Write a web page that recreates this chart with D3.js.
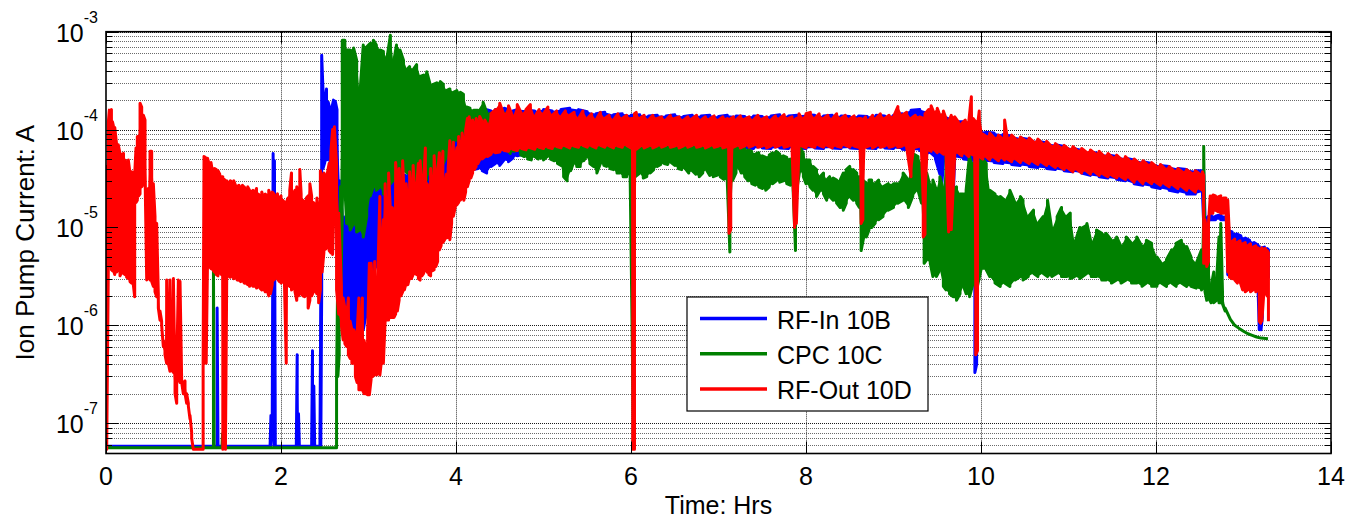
<!DOCTYPE html>
<html>
<head>
<meta charset="utf-8">
<script src="https://cdn.jsdelivr.net/npm/d3@7"></script>
<style>
  body { margin: 0; background: #fff; }
  svg { display: block; }
  text { font-family: "Liberation Sans", Arial, sans-serif; fill: #000; }
</style>
</head>
<body>
<svg id="chart" width="1350" height="522"></svg>
<script>
// ---- axis ticks and labels ----
const xTickValues = [0, 2, 4, 6, 8, 10, 12, 14];
const yDecadeValues = [1e-7, 1e-6, 1e-5, 1e-4, 1e-3];
const yDecadeExponents = ["-7", "-6", "-5", "-4", "-3"];
const xAxisTitle = "Time: Hrs";
const yAxisTitle = "Ion Pump Current: A";
const seriesNames = ["RF-In 10B", "CPC 10C", "RF-Out 10D"];
const seriesColors = ["#0000ff", "#008000", "#ff0000"];

// ---- logged pump currents: [time (h), min current (A), max current (A)] per time bin ----
const rfIn10B = [
  [0.000, 5.8e-8, 5.8e-8], [1.260, 5.8e-8, 5.8e-8], [1.270, 5.8e-8, 1.5e-6], [1.280, 5.8e-8, 5.8e-8],
  [1.875, 5.8e-8, 5.8e-8], [1.885, 5.8e-8, 1.2e-7], [1.900, 1.1e-7, 1.2e-7], [1.910, 1.2e-7, 5.7e-5],
  [1.925, 5.8e-8, 4.8e-5], [1.935, 5.8e-8, 5.8e-8], [2.175, 5.8e-8, 5.8e-8], [2.185, 5.8e-8, 5.0e-7],
  [2.200, 5.8e-8, 1.25e-7], [2.210, 5.8e-8, 5.8e-8], [2.350, 5.8e-8, 5.8e-8], [2.360, 5.8e-8, 5.5e-7],
  [2.375, 5.8e-8, 2.4e-7], [2.385, 5.8e-8, 5.8e-8], [2.445, 5.8e-8, 5.8e-8], [2.455, 5.8e-8, 2.4e-6],
  [2.465, 2.4e-6, 5.75e-4], [2.480, 4.0e-5, 2.5e-4], [2.500, 4.6e-5, 1.9e-4], [2.520, 4.9e-5, 2.6e-4],
  [2.540, 5.0e-5, 1.9e-4], [2.560, 4.5e-5, 1.6e-4], [2.580, 4.0e-5, 1.65e-4], [2.600, 3.0e-5, 2.0e-4],
  [2.620, 2.0e-5, 1.95e-4], [2.640, 9.0e-6, 1.6e-4], [2.670, 3.0e-6, 3.0e-5], [2.700, 1.5e-6, 1.3e-5],
  [2.740, 1.2e-6, 1.3e-5], [2.780, 1.0e-6, 1.2e-5], [2.820, 9.0e-7, 1.4e-5], [2.860, 9.0e-7, 1.2e-5],
  [2.900, 9.0e-7, 1.3e-5], [2.940, 9.0e-7, 1.4e-5], [2.980, 1.4e-6, 2.4e-5], [3.020, 2.3e-6, 2.6e-5],
  [3.060, 3.0e-6, 2.4e-5], [3.100, 4.0e-6, 2.8e-5], [3.140, 4.3e-6, 3.0e-5], [3.180, 4.3e-6, 3.2e-5],
  [3.220, 4.5e-6, 3.3e-5], [3.260, 4.5e-6, 3.5e-5], [3.300, 4.3e-6, 3.2e-5], [3.340, 5.0e-6, 3.4e-5],
  [3.380, 6.0e-6, 3.5e-5], [3.420, 6.0e-6, 3.4e-5], [3.460, 6.5e-6, 3.6e-5], [3.500, 6.5e-6, 3.8e-5],
  [3.550, 6.0e-6, 4.0e-5], [3.600, 6.0e-6, 3.8e-5], [3.650, 7.0e-6, 4.0e-5], [3.700, 7.0e-6, 4.2e-5],
  [3.750, 9.0e-6, 4.5e-5], [3.800, 1.4e-5, 5.0e-5], [3.850, 1.6e-5, 5.5e-5], [3.900, 1.8e-5, 6.0e-5],
  [3.950, 2.2e-5, 6.5e-5], [4.000, 2.6e-5, 7.5e-5], [4.050, 2.8e-5, 8.5e-5], [4.100, 3.2e-5, 1.1e-4],
  [4.150, 3.6e-5, 1.3e-4], [4.200, 3.9e-5, 1.3e-4], [4.250, 4.0e-5, 1.45e-4], [4.300, 3.8e-5, 1.55e-4],
  [4.350, 3.6e-5, 1.6e-4], [4.400, 4.2e-5, 1.55e-4], [4.450, 4.5e-5, 1.6e-4], [4.500, 4.3e-5, 1.6e-4],
  [4.550, 4.9e-5, 1.65e-4], [4.600, 4.7e-5, 1.6e-4], [4.650, 5.1e-5, 1.55e-4], [4.700, 5.4e-5, 1.6e-4],
  [4.800, 5.7e-5, 1.58e-4], [4.900, 5.9e-5, 1.55e-4], [5.000, 6.0e-5, 1.6e-4], [5.100, 6.1e-5, 1.55e-4],
  [5.200, 6.2e-5, 1.6e-4], [5.300, 6.3e-5, 1.65e-4], [5.400, 6.4e-5, 1.6e-4], [5.500, 6.3e-5, 1.52e-4],
  [5.600, 6.4e-5, 1.45e-4], [5.700, 6.5e-5, 1.5e-4], [5.800, 6.4e-5, 1.42e-4], [5.900, 6.5e-5, 1.45e-4],
  [6.000, 6.4e-5, 1.4e-4], [6.100, 6.5e-5, 1.42e-4], [6.200, 6.4e-5, 1.38e-4], [6.300, 6.5e-5, 1.4e-4],
  [6.400, 6.4e-5, 1.38e-4], [6.500, 6.5e-5, 1.42e-4], [6.600, 6.4e-5, 1.36e-4], [6.700, 6.5e-5, 1.4e-4],
  [6.800, 6.4e-5, 1.38e-4], [6.900, 6.5e-5, 1.4e-4], [7.000, 6.4e-5, 1.36e-4], [7.100, 6.5e-5, 1.4e-4],
  [7.200, 6.4e-5, 1.38e-4], [7.300, 6.5e-5, 1.36e-4], [7.400, 6.4e-5, 1.38e-4], [7.500, 6.5e-5, 1.36e-4],
  [7.600, 6.4e-5, 1.38e-4], [7.700, 6.5e-5, 1.42e-4], [7.800, 6.4e-5, 1.38e-4], [7.900, 6.5e-5, 1.4e-4],
  [8.000, 6.4e-5, 1.42e-4], [8.100, 6.5e-5, 1.4e-4], [8.200, 6.4e-5, 1.38e-4], [8.300, 6.5e-5, 1.4e-4],
  [8.400, 6.4e-5, 1.38e-4], [8.500, 6.5e-5, 1.36e-4], [8.600, 6.4e-5, 1.38e-4], [8.700, 6.5e-5, 1.36e-4],
  [8.800, 6.4e-5, 1.4e-4], [8.900, 6.5e-5, 1.38e-4], [9.000, 6.4e-5, 1.4e-4], [9.100, 6.3e-5, 1.45e-4],
  [9.200, 6.2e-5, 1.58e-4], [9.300, 6.1e-5, 1.6e-4], [9.400, 5.8e-5, 1.5e-4], [9.480, 5.0e-5, 1.45e-4],
  [9.530, 3.5e-5, 1.4e-4], [9.550, 2.6e-5, 1.4e-4], [9.570, 4.5e-5, 1.35e-4], [9.620, 5.0e-5, 1.3e-4],
  [9.640, 6.4e-6, 1.25e-4], [9.660, 7.0e-6, 1.25e-4], [9.700, 5.2e-5, 1.2e-4], [9.800, 5.0e-5, 1.2e-4],
  [9.900, 4.9e-5, 1.15e-4], [9.930, 3.3e-7, 1.1e-4], [9.950, 4.0e-7, 1.05e-4], [9.980, 4.8e-5, 1.0e-4],
  [10.05, 4.7e-5, 9.4e-5], [10.15, 4.6e-5, 9.2e-5], [10.25, 4.5e-5, 8.9e-5], [10.35, 4.4e-5, 8.6e-5],
  [10.45, 4.3e-5, 8.2e-5], [10.55, 4.2e-5, 7.9e-5], [10.65, 4.1e-5, 7.6e-5], [10.75, 4.0e-5, 7.3e-5],
  [10.85, 3.9e-5, 7.0e-5], [10.95, 3.8e-5, 6.7e-5], [11.05, 3.7e-5, 6.4e-5], [11.15, 3.6e-5, 6.1e-5],
  [11.25, 3.4e-5, 5.9e-5], [11.35, 3.3e-5, 5.7e-5], [11.45, 3.2e-5, 5.5e-5], [11.55, 3.1e-5, 5.3e-5],
  [11.65, 3.0e-5, 5.1e-5], [11.75, 2.8e-5, 4.9e-5], [11.85, 2.7e-5, 4.7e-5], [11.95, 2.6e-5, 4.5e-5],
  [12.05, 2.5e-5, 4.3e-5], [12.15, 2.4e-5, 4.2e-5], [12.25, 2.3e-5, 4.0e-5], [12.35, 2.2e-5, 3.9e-5],
  [12.45, 2.2e-5, 3.8e-5], [12.53, 2.3e-5, 3.8e-5], [12.545, 1.1e-5, 3.7e-5], [12.56, 1.05e-5, 1.3e-5],
  [12.60, 1.1e-5, 1.3e-5], [12.63, 1.2e-5, 1.35e-5], [12.68, 1.2e-5, 1.3e-5], [12.74, 1.2e-5, 1.35e-5],
  [12.80, 1.2e-5, 1.3e-5], [12.82, 3.3e-6, 1.2e-5], [12.84, 3.2e-6, 9.2e-6], [12.87, 3.1e-6, 9.0e-6],
  [12.92, 3.0e-6, 8.6e-6], [12.97, 2.9e-6, 8.2e-6], [13.02, 2.8e-6, 7.8e-6], [13.07, 2.8e-6, 7.4e-6],
  [13.12, 2.7e-6, 7.0e-6], [13.165, 2.6e-6, 6.6e-6], [13.18, 9.0e-7, 6.4e-6], [13.20, 9.0e-7, 1.5e-6],
  [13.215, 1.2e-6, 6.2e-6], [13.24, 2.5e-6, 6.3e-6], [13.27, 2.5e-6, 6.1e-6], [13.285, 3.0e-6, 5.9e-6]
];

const cpc10C = [
  [0.000, 5.6e-8, 5.6e-8], [1.220, 5.6e-8, 5.6e-8], [1.228, 5.6e-8, 4.3e-6], [1.236, 5.6e-8, 5.6e-8],
  [1.325, 5.6e-8, 5.6e-8], [1.332, 5.6e-8, 7.8e-8], [1.340, 5.6e-8, 5.6e-8], [2.625, 5.6e-8, 5.6e-8],
  [2.635, 5.6e-8, 3.0e-7], [2.650, 3.0e-7, 4.3e-6], [2.665, 5.0e-7, 2.6e-6], [2.680, 1.6e-6, 2.6e-5],
  [2.700, 1.3e-5, 8.2e-4], [2.730, 2.6e-5, 8.2e-4], [2.750, 1.1e-5, 6.5e-4], [2.790, 9.4e-6, 6.5e-4],
  [2.830, 1.1e-5, 6.8e-4], [2.865, 9.0e-6, 5.1e-4], [2.900, 9.4e-6, 2.2e-4], [2.940, 8.0e-6, 7.3e-4],
  [2.980, 1.3e-5, 7.0e-4], [3.020, 2.1e-5, 7.6e-4], [3.055, 2.6e-5, 8.2e-4], [3.090, 2.4e-5, 7.3e-4],
  [3.130, 2.6e-5, 6.5e-4], [3.170, 2.2e-5, 6.3e-4], [3.210, 2.6e-5, 5.3e-4], [3.250, 2.8e-5, 9.2e-4],
  [3.285, 3.05e-5, 4.75e-4], [3.320, 2.8e-5, 7.3e-4], [3.360, 3.3e-5, 6.5e-4], [3.400, 3.9e-5, 5.1e-4],
  [3.440, 3.6e-5, 4.1e-4], [3.470, 3.3e-5, 4.4e-4], [3.510, 3.6e-5, 4.1e-4], [3.550, 2.8e-5, 4.6e-4],
  [3.590, 3.9e-5, 3.5e-4], [3.630, 3.3e-5, 3.6e-4], [3.665, 3.05e-5, 3.9e-4], [3.700, 3.6e-5, 3.0e-4],
  [3.740, 3.3e-5, 2.9e-4], [3.780, 3.9e-5, 3.0e-4], [3.820, 4.2e-5, 3.1e-4], [3.855, 4.5e-5, 2.9e-4],
  [3.890, 5.3e-5, 2.5e-4], [3.930, 6.2e-5, 2.6e-4], [3.970, 7.2e-5, 2.4e-4], [4.010, 7.8e-5, 2.5e-4],
  [4.050, 8.5e-5, 2.4e-4], [4.085, 9.2e-5, 2.3e-4], [4.120, 9.9e-5, 1.7e-4], [4.160, 9.2e-5, 1.65e-4],
  [4.200, 9.2e-5, 1.58e-4], [4.250, 8.5e-5, 1.58e-4], [4.310, 8.5e-5, 1.9e-4], [4.350, 8.0e-5, 1.5e-4],
  [4.390, 7.8e-5, 1.47e-4], [4.430, 7.5e-5, 1.4e-4], [4.470, 7.2e-5, 1.35e-4], [4.510, 6.8e-5, 1.45e-4],
  [4.550, 6.5e-5, 1.47e-4], [4.590, 6.2e-5, 1.4e-4], [4.620, 5.7e-5, 1.36e-4], [4.660, 6.0e-5, 1.3e-4],
  [4.700, 6.2e-5, 1.25e-4], [4.740, 5.5e-5, 1.25e-4], [4.780, 5.3e-5, 1.25e-4], [4.820, 5.0e-5, 1.2e-4],
  [4.860, 4.9e-5, 1.25e-4], [4.900, 5.3e-5, 1.2e-4], [4.940, 5.0e-5, 1.2e-4], [5.000, 4.9e-5, 1.16e-4],
  [5.040, 5.3e-5, 1.2e-4], [5.080, 5.0e-5, 1.1e-4], [5.120, 4.8e-5, 1.16e-4], [5.160, 4.5e-5, 1.1e-4],
  [5.200, 4.3e-5, 1.07e-4], [5.230, 3.3e-5, 1.1e-4], [5.270, 3.0e-5, 1.05e-4], [5.310, 3.8e-5, 1.0e-4],
  [5.340, 4.5e-5, 9.5e-5], [5.380, 4.2e-5, 9.9e-5], [5.420, 4.2e-5, 9.2e-5], [5.460, 4.8e-5, 9.6e-5],
  [5.490, 5.3e-5, 9.9e-5], [5.530, 4.5e-5, 9.2e-5], [5.570, 4.2e-5, 9.5e-5], [5.610, 3.6e-5, 9.0e-5],
  [5.650, 4.5e-5, 9.4e-5], [5.690, 4.3e-5, 8.8e-5], [5.720, 4.2e-5, 9.2e-5], [5.760, 4.0e-5, 8.6e-5],
  [5.800, 3.9e-5, 9.0e-5], [5.840, 3.6e-5, 8.5e-5], [5.870, 3.6e-5, 8.8e-5], [5.910, 3.3e-5, 8.4e-5],
  [5.950, 3.3e-5, 8.6e-5], [5.990, 3.5e-5, 8.2e-5], [6.030, 5.6e-8, 8.5e-5], [6.050, 3.3e-5, 8.0e-5],
  [6.100, 3.6e-5, 8.6e-5], [6.140, 3.2e-5, 8.2e-5], [6.180, 3.3e-5, 8.6e-5], [6.220, 3.6e-5, 8.4e-5],
  [6.260, 3.9e-5, 8.8e-5], [6.300, 4.2e-5, 8.5e-5], [6.340, 4.4e-5, 8.9e-5], [6.380, 4.5e-5, 8.6e-5],
  [6.420, 4.4e-5, 8.8e-5], [6.460, 4.6e-5, 8.4e-5], [6.500, 4.3e-5, 8.2e-5], [6.540, 4.0e-5, 8.5e-5],
  [6.580, 3.9e-5, 8.0e-5], [6.620, 4.0e-5, 7.8e-5], [6.660, 3.6e-5, 8.1e-5], [6.700, 3.8e-5, 7.6e-5],
  [6.740, 3.5e-5, 7.8e-5], [6.780, 3.3e-5, 7.4e-5], [6.820, 3.6e-5, 7.6e-5], [6.860, 3.9e-5, 7.2e-5],
  [6.900, 3.4e-5, 7.4e-5], [6.940, 3.3e-5, 7.0e-5], [6.980, 3.4e-5, 7.2e-5], [7.020, 3.3e-5, 6.8e-5],
  [7.060, 3.1e-5, 7.0e-5], [7.100, 3.0e-5, 6.6e-5], [7.130, 5.6e-6, 6.5e-5], [7.160, 3.0e-5, 6.8e-5],
  [7.200, 3.6e-5, 7.0e-5], [7.230, 4.2e-5, 7.2e-5], [7.260, 3.6e-5, 6.8e-5], [7.300, 3.3e-5, 6.4e-5],
  [7.340, 3.0e-5, 6.2e-5], [7.380, 2.8e-5, 6.0e-5], [7.420, 2.7e-5, 5.6e-5], [7.460, 2.6e-5, 5.8e-5],
  [7.500, 2.5e-5, 5.4e-5], [7.540, 2.4e-5, 5.2e-5], [7.580, 2.6e-5, 5.5e-5], [7.620, 2.8e-5, 5.8e-5],
  [7.660, 3.0e-5, 6.0e-5], [7.700, 2.9e-5, 5.6e-5], [7.740, 3.0e-5, 5.4e-5], [7.780, 2.8e-5, 5.2e-5],
  [7.820, 2.7e-5, 5.0e-5], [7.850, 2.8e-5, 4.6e-5], [7.880, 5.8e-6, 4.5e-5], [7.900, 2.6e-5, 4.8e-5],
  [7.930, 3.9e-5, 6.7e-5], [7.970, 3.3e-5, 5.7e-5], [8.000, 2.8e-5, 4.9e-5], [8.045, 2.6e-5, 4.9e-5],
  [8.080, 2.4e-5, 4.2e-5], [8.120, 2.07e-5, 3.9e-5], [8.160, 2.4e-5, 3.3e-5], [8.200, 2.2e-5, 3.6e-5],
  [8.236, 1.9e-5, 3.05e-5], [8.270, 2.07e-5, 3.3e-5], [8.310, 1.9e-5, 3.2e-5], [8.350, 1.77e-5, 3.05e-5],
  [8.390, 1.6e-5, 3.05e-5], [8.426, 1.5e-5, 3.6e-5], [8.460, 1.77e-5, 3.9e-5], [8.500, 2.07e-5, 4.2e-5],
  [8.540, 1.9e-5, 3.9e-5], [8.580, 1.77e-5, 3.6e-5], [8.610, 1.6e-5, 3.3e-5], [8.630, 5.8e-6, 3.3e-5],
  [8.660, 8.0e-6, 3.0e-5], [8.690, 8.0e-6, 2.8e-5], [8.720, 9.4e-6, 3.05e-5], [8.750, 1.0e-5, 3.05e-5],
  [8.790, 1.1e-5, 2.8e-5], [8.830, 1.2e-5, 3.05e-5], [8.880, 1.29e-5, 2.6e-5], [8.940, 1.5e-5, 2.8e-5],
  [9.000, 1.6e-5, 2.8e-5], [9.050, 1.77e-5, 2.8e-5], [9.110, 1.9e-5, 3.6e-5], [9.170, 1.6e-5, 3.05e-5],
  [9.220, 2.07e-5, 5.7e-5], [9.280, 2.4e-5, 5.3e-5], [9.320, 1.77e-5, 4.5e-5], [9.350, 4.3e-6, 4.0e-5],
  [9.380, 4.7e-6, 3.6e-5], [9.420, 4.3e-6, 2.6e-5], [9.450, 3.15e-6, 3.05e-5], [9.490, 3.15e-6, 2.4e-5],
  [9.530, 3.7e-6, 3.3e-5], [9.570, 2.5e-6, 2.4e-5], [9.600, 2.3e-6, 5.7e-5], [9.640, 2.1e-6, 2.6e-5],
  [9.680, 1.96e-6, 2.4e-5], [9.720, 1.8e-6, 2.6e-5], [9.760, 2.1e-6, 2.2e-5], [9.800, 2.5e-6, 2.2e-5],
  [9.830, 2.1e-6, 2.4e-5], [9.870, 1.96e-6, 5.7e-5], [9.910, 2.7e-6, 4.5e-5], [9.950, 2.3e-6, 3.9e-5],
  [10.00, 3.7e-6, 5.3e-5], [10.06, 3.7e-6, 4.5e-5], [10.10, 3.15e-6, 2.4e-5], [10.16, 2.7e-6, 2.2e-5],
  [10.22, 2.5e-6, 2.07e-5], [10.27, 2.7e-6, 1.9e-5], [10.33, 2.5e-6, 2.4e-5], [10.39, 2.9e-6, 1.77e-5],
  [10.45, 3.15e-6, 2.07e-5], [10.48, 2.9e-6, 1.9e-5], [10.54, 3.15e-6, 1.29e-5], [10.60, 3.4e-6, 1.5e-5],
  [10.65, 3.15e-6, 1.1e-5], [10.71, 3.4e-6, 1.29e-5], [10.76, 3.15e-6, 1.9e-5], [10.81, 3.15e-6, 9.4e-6],
  [10.87, 3.4e-6, 1.29e-5], [10.92, 3.15e-6, 1.6e-5], [10.98, 3.15e-6, 1.29e-5], [11.02, 3.0e-6, 1.4e-5],
  [11.07, 3.15e-6, 6.9e-6], [11.13, 3.0e-6, 1.0e-5], [11.21, 3.4e-6, 1.1e-5], [11.26, 3.15e-6, 6.9e-6],
  [11.32, 3.15e-6, 9.4e-6], [11.38, 2.9e-6, 8.7e-6], [11.43, 2.9e-6, 8.7e-6], [11.49, 2.7e-6, 7.4e-6],
  [11.55, 2.9e-6, 8.0e-6], [11.60, 2.7e-6, 6.4e-6], [11.66, 2.9e-6, 8.0e-6], [11.72, 2.7e-6, 6.9e-6],
  [11.78, 2.7e-6, 8.0e-6], [11.84, 2.5e-6, 6.4e-6], [11.89, 2.7e-6, 7.4e-6], [11.95, 2.5e-6, 6.9e-6],
  [12.01, 2.5e-6, 5.0e-6], [12.06, 2.7e-6, 4.3e-6], [12.12, 2.5e-6, 4.7e-6], [12.18, 2.7e-6, 5.9e-6],
  [12.23, 2.5e-6, 6.9e-6], [12.29, 2.7e-6, 7.4e-6], [12.35, 2.5e-6, 6.4e-6], [12.40, 2.5e-6, 5.0e-6],
  [12.46, 2.4e-6, 4.3e-6], [12.52, 2.3e-6, 5.9e-6], [12.545, 2.5e-6, 6.7e-5], [12.56, 2.2e-6, 4.3e-6],
  [12.58, 1.8e-6, 4.5e-6], [12.60, 1.9e-6, 4.7e-6], [12.63, 1.7e-6, 2.5e-6], [12.66, 1.7e-6, 3.5e-6],
  [12.69, 1.8e-6, 2.6e-6], [12.72, 1.7e-6, 8.0e-6], [12.74, 1.7e-6, 1.1e-5], [12.76, 1.65e-6, 2.2e-6],
  [12.79, 1.4e-6, 1.5e-6], [12.85, 1.15e-6, 1.15e-6], [12.90, 1.0e-6, 1.0e-6], [12.95, 9.3e-7, 9.3e-7],
  [13.00, 8.7e-7, 8.7e-7], [13.05, 8.2e-7, 8.2e-7], [13.10, 7.9e-7, 7.9e-7], [13.15, 7.6e-7, 7.6e-7],
  [13.20, 7.4e-7, 7.4e-7], [13.28, 7.3e-7, 7.3e-7]
];

const rfOut10D = [
  [0.000, 5.4e-8, 5.4e-8], [0.008, 5.4e-8, 4.2e-5], [0.027, 4.3e-6, 1.2e-4], [0.038, 4.0e-6, 1.58e-4],
  [0.050, 4.0e-6, 1.5e-4], [0.062, 3.7e-6, 1.6e-4], [0.074, 3.6e-6, 1.2e-4], [0.084, 3.7e-6, 1.1e-4],
  [0.100, 3.3e-6, 1.05e-4], [0.120, 3.5e-6, 7.2e-5], [0.140, 3.7e-6, 7.0e-5], [0.160, 3.2e-6, 5.7e-5],
  [0.180, 3.5e-6, 5.5e-5], [0.200, 3.4e-6, 5.7e-5], [0.217, 3.3e-6, 4.9e-5], [0.236, 3.1e-6, 4.4e-5],
  [0.255, 3.0e-6, 4.9e-5], [0.274, 2.8e-6, 3.6e-5], [0.293, 2.7e-6, 3.7e-5], [0.312, 2.6e-6, 3.6e-5],
  [0.328, 1.96e-6, 3.5e-5], [0.343, 1.8e-5, 6.5e-5], [0.358, 1.9e-5, 8.5e-5], [0.373, 2.1e-5, 8.5e-5],
  [0.389, 2.2e-5, 1.86e-4], [0.408, 2.6e-5, 1.7e-4], [0.427, 2.8e-5, 1.4e-4], [0.446, 3.6e-5, 1.25e-4],
  [0.465, 2.9e-6, 2.2e-5], [0.484, 3.2e-6, 2.5e-5], [0.503, 2.9e-6, 6.0e-5], [0.522, 2.8e-6, 6.0e-5],
  [0.541, 2.5e-6, 2.8e-5], [0.560, 2.2e-6, 1.3e-5], [0.579, 1.96e-6, 1.1e-5], [0.598, 1.5e-6, 2.1e-6],
  [0.617, 1.13e-6, 1.4e-6], [0.636, 1.0e-6, 1.1e-6], [0.655, 6.1e-7, 7.0e-7], [0.674, 5.0e-7, 5.5e-7],
  [0.693, 4.1e-7, 2.9e-6], [0.712, 4.1e-7, 6.0e-7], [0.731, 3.4e-7, 2.9e-6], [0.750, 3.5e-7, 4.0e-7],
  [0.770, 3.3e-7, 3.0e-6], [0.789, 2.0e-7, 2.9e-7], [0.808, 1.6e-7, 3.5e-7], [0.827, 3.0e-7, 2.9e-6],
  [0.846, 2.6e-7, 2.8e-6], [0.865, 2.6e-7, 2.7e-7], [0.884, 2.0e-7, 2.6e-7], [0.903, 2.0e-7, 2.7e-7],
  [0.922, 1.6e-7, 2.0e-7], [0.941, 1.5e-7, 1.6e-7], [0.960, 1.1e-7, 1.2e-7], [0.979, 7.0e-8, 8.0e-8],
  [0.998, 5.4e-8, 5.4e-8], [1.105, 5.4e-8, 5.4e-8], [1.110, 5.4e-8, 4.1e-7], [1.120, 4.1e-7, 5.3e-5],
  [1.135, 4.5e-6, 5.2e-5], [1.145, 4.1e-7, 4.5e-5], [1.160, 4.3e-6, 5.1e-5], [1.180, 4.0e-6, 4.4e-5],
  [1.200, 3.8e-6, 4.6e-5], [1.220, 3.7e-6, 3.6e-5], [1.240, 3.5e-6, 4.0e-5], [1.260, 3.3e-6, 3.9e-5],
  [1.280, 3.2e-6, 3.8e-5], [1.300, 3.5e-6, 3.5e-5], [1.320, 3.3e-6, 3.3e-5], [1.335, 5.4e-8, 3.3e-5],
  [1.350, 3.1e-6, 3.1e-5], [1.365, 5.4e-8, 3.0e-5], [1.380, 3.3e-6, 3.0e-5], [1.400, 3.2e-6, 2.8e-5],
  [1.420, 3.1e-6, 3.0e-5], [1.440, 3.3e-6, 2.9e-5], [1.460, 3.0e-6, 3.0e-5], [1.480, 3.1e-6, 2.7e-5],
  [1.500, 2.9e-6, 2.6e-5], [1.520, 2.9e-6, 2.7e-5], [1.540, 2.8e-6, 2.5e-5], [1.560, 2.9e-6, 2.7e-5],
  [1.580, 2.7e-6, 2.6e-5], [1.600, 2.7e-6, 2.4e-5], [1.620, 2.6e-6, 2.6e-5], [1.640, 2.5e-6, 2.4e-5],
  [1.660, 2.6e-6, 2.3e-5], [1.680, 2.5e-6, 2.4e-5], [1.700, 2.5e-6, 2.2e-5], [1.720, 2.4e-6, 2.5e-5],
  [1.740, 2.5e-6, 2.2e-5], [1.760, 2.4e-6, 2.1e-5], [1.780, 2.3e-6, 2.3e-5], [1.800, 2.4e-6, 2.0e-5],
  [1.820, 2.2e-6, 2.2e-5], [1.840, 2.3e-6, 2.1e-5], [1.860, 2.0e-6, 2.4e-5], [1.880, 2.1e-6, 2.1e-5],
  [1.900, 2.6e-6, 2.3e-5], [1.920, 2.9e-6, 2.2e-5], [1.940, 3.1e-6, 2.0e-5], [1.960, 3.0e-6, 2.2e-5],
  [1.980, 2.8e-6, 2.0e-5], [2.000, 2.7e-6, 2.1e-5], [2.020, 2.8e-6, 1.9e-5], [2.040, 2.6e-6, 1.8e-5],
  [2.060, 4.1e-7, 1.8e-5], [2.080, 2.6e-6, 2.0e-5], [2.100, 2.5e-6, 2.4e-5], [2.120, 2.3e-6, 3.6e-5],
  [2.140, 2.4e-6, 2.2e-5], [2.160, 2.2e-6, 2.4e-5], [2.180, 1.8e-6, 2.6e-5], [2.200, 2.0e-6, 2.2e-5],
  [2.215, 2.3e-6, 3.9e-5], [2.230, 2.1e-6, 2.2e-5], [2.250, 2.0e-6, 1.9e-5], [2.270, 1.96e-6, 1.8e-5],
  [2.290, 2.1e-6, 2.0e-5], [2.310, 1.5e-6, 2.1e-5], [2.330, 1.8e-6, 2.8e-5], [2.350, 2.0e-6, 2.1e-5],
  [2.370, 2.2e-6, 1.8e-5], [2.390, 2.3e-6, 1.7e-5], [2.410, 2.1e-6, 2.0e-5], [2.430, 1.7e-6, 1.4e-5],
  [2.450, 2.3e-6, 3.8e-5], [2.470, 3.5e-6, 2.8e-5], [2.490, 5.5e-6, 3.6e-5], [2.510, 6.0e-6, 3.3e-5],
  [2.530, 6.3e-6, 3.6e-5], [2.550, 5.8e-6, 4.5e-5], [2.570, 5.5e-6, 6.0e-5], [2.590, 5.3e-6, 1.0e-4],
  [2.610, 2.1e-5, 1.07e-4], [2.635, 2.3e-6, 4.5e-5], [2.660, 1.3e-6, 1.4e-5], [2.690, 1.0e-6, 2.5e-6],
  [2.710, 7.1e-7, 1.9e-6], [2.730, 6.5e-7, 1.5e-6], [2.750, 6.1e-7, 1.2e-6], [2.770, 5.0e-7, 1.9e-6],
  [2.790, 4.6e-7, 1.1e-6], [2.810, 4.1e-7, 9.0e-7], [2.830, 4.1e-7, 9.0e-7], [2.850, 3.0e-7, 8.0e-7],
  [2.870, 2.6e-7, 8.5e-7], [2.890, 2.2e-7, 1.9e-6], [2.910, 2.2e-7, 8.0e-7], [2.930, 2.2e-7, 1.9e-6],
  [2.950, 2.0e-7, 7.0e-7], [2.970, 2.0e-7, 5.5e-7], [2.990, 1.95e-7, 9.0e-7], [3.010, 1.95e-7, 4.3e-6],
  [3.030, 2.8e-7, 4.3e-6], [3.050, 3.0e-7, 2.3e-6], [3.070, 3.2e-7, 4.5e-6], [3.090, 3.1e-7, 1.3e-6],
  [3.110, 3.3e-7, 4.3e-6], [3.130, 3.1e-7, 2.07e-5], [3.150, 4.5e-7, 6.0e-6], [3.170, 4.1e-7, 1.2e-5],
  [3.190, 1.1e-6, 2.8e-5], [3.210, 1.13e-6, 9.0e-6], [3.230, 1.13e-6, 3.6e-5], [3.250, 1.2e-6, 1.5e-5],
  [3.270, 1.2e-6, 1.6e-5], [3.290, 1.2e-6, 1.5e-5], [3.310, 1.3e-6, 4.6e-5], [3.330, 1.4e-6, 2.4e-5],
  [3.350, 1.8e-6, 4.0e-5], [3.370, 2.0e-6, 1.8e-5], [3.390, 2.2e-6, 4.8e-5], [3.410, 2.3e-6, 2.0e-5],
  [3.430, 2.7e-6, 2.8e-5], [3.450, 2.6e-6, 1.7e-5], [3.470, 3.1e-6, 3.7e-5], [3.490, 3.0e-6, 2.2e-5],
  [3.510, 3.3e-6, 4.3e-5], [3.530, 3.4e-6, 2.0e-5], [3.550, 3.3e-6, 2.5e-5], [3.570, 3.0e-6, 4.5e-5],
  [3.590, 2.9e-6, 4.8e-5], [3.610, 3.2e-6, 2.4e-5], [3.630, 3.4e-6, 3.0e-5], [3.650, 3.7e-6, 6.5e-5],
  [3.670, 3.5e-6, 2.8e-5], [3.690, 3.3e-6, 2.5e-5], [3.710, 3.2e-6, 4.0e-5], [3.730, 3.6e-6, 2.2e-5],
  [3.750, 3.7e-6, 5.4e-5], [3.770, 4.0e-6, 3.0e-5], [3.790, 4.5e-6, 3.5e-5], [3.810, 5.9e-6, 5.8e-5],
  [3.830, 6.5e-6, 3.0e-5], [3.850, 7.0e-6, 6.0e-5], [3.870, 7.5e-6, 2.5e-5], [3.890, 7.8e-6, 3.5e-5],
  [3.910, 8.0e-6, 4.0e-5], [3.930, 7.5e-6, 7.7e-5], [3.950, 1.1e-5, 4.5e-5], [3.970, 1.3e-5, 7.4e-5],
  [3.990, 1.6e-5, 5.0e-5], [4.010, 1.7e-5, 6.5e-5], [4.030, 1.8e-5, 8.5e-5], [4.050, 1.9e-5, 6.0e-5],
  [4.070, 2.0e-5, 9.2e-5], [4.090, 1.9e-5, 7.0e-5], [4.110, 2.3e-5, 9.9e-5], [4.130, 2.6e-5, 1.3e-4],
  [4.150, 3.0e-5, 1.35e-4], [4.170, 3.2e-5, 1.0e-4], [4.190, 3.6e-5, 1.25e-4], [4.210, 3.9e-5, 1.1e-4],
  [4.230, 4.2e-5, 1.3e-4], [4.250, 4.5e-5, 1.1e-4], [4.270, 4.9e-5, 1.36e-4], [4.300, 5.0e-5, 1.2e-4],
  [4.330, 5.3e-5, 1.25e-4], [4.360, 5.3e-5, 1.1e-4], [4.400, 5.6e-5, 1.45e-4], [4.450, 5.8e-5, 1.6e-4],
  [4.500, 5.9e-5, 1.86e-4], [4.550, 6.1e-5, 1.4e-4], [4.600, 6.0e-5, 1.75e-4], [4.650, 6.3e-5, 1.35e-4],
  [4.700, 6.1e-5, 1.8e-4], [4.750, 6.4e-5, 1.45e-4], [4.800, 6.2e-5, 1.6e-4], [4.850, 6.5e-5, 1.8e-4],
  [4.900, 6.3e-5, 1.35e-4], [4.950, 6.6e-5, 1.6e-4], [5.000, 6.4e-5, 1.45e-4], [5.050, 6.6e-5, 1.7e-4],
  [5.100, 6.4e-5, 1.4e-4], [5.150, 6.7e-5, 1.55e-4], [5.200, 6.5e-5, 1.35e-4], [5.250, 6.8e-5, 1.55e-4],
  [5.300, 6.5e-5, 1.4e-4], [5.350, 6.8e-5, 1.5e-4], [5.400, 6.6e-5, 1.3e-4], [5.450, 6.9e-5, 1.55e-4],
  [5.500, 6.6e-5, 1.3e-4], [5.550, 6.8e-5, 1.45e-4], [5.600, 6.5e-5, 1.25e-4], [5.650, 6.9e-5, 1.5e-4],
  [5.700, 6.6e-5, 1.3e-4], [5.750, 6.8e-5, 1.4e-4], [5.800, 6.5e-5, 1.25e-4], [5.850, 6.8e-5, 1.45e-4],
  [5.900, 6.6e-5, 1.3e-4], [5.950, 6.9e-5, 1.4e-4], [6.000, 6.5e-5, 1.3e-4], [6.020, 5.4e-8, 1.3e-4],
  [6.040, 5.4e-8, 1.45e-4], [6.060, 6.3e-5, 1.5e-4], [6.100, 6.7e-5, 1.3e-4], [6.150, 6.5e-5, 1.4e-4],
  [6.200, 6.8e-5, 1.25e-4], [6.250, 6.5e-5, 1.4e-4], [6.300, 6.8e-5, 1.3e-4], [6.350, 6.6e-5, 1.35e-4],
  [6.400, 6.9e-5, 1.25e-4], [6.450, 6.6e-5, 1.4e-4], [6.500, 6.8e-5, 1.3e-4], [6.550, 6.5e-5, 1.35e-4],
  [6.600, 6.8e-5, 1.25e-4], [6.650, 6.6e-5, 1.35e-4], [6.700, 6.9e-5, 1.3e-4], [6.750, 6.6e-5, 1.4e-4],
  [6.800, 6.8e-5, 1.25e-4], [6.850, 6.5e-5, 1.35e-4], [6.900, 6.8e-5, 1.28e-4], [6.950, 6.6e-5, 1.38e-4],
  [7.000, 6.8e-5, 1.25e-4], [7.050, 6.5e-5, 1.35e-4], [7.100, 6.7e-5, 1.3e-4], [7.120, 8.7e-6, 1.25e-4],
  [7.140, 9.5e-6, 1.3e-4], [7.170, 6.6e-5, 1.35e-4], [7.200, 6.8e-5, 1.25e-4], [7.250, 6.5e-5, 1.38e-4],
  [7.300, 6.8e-5, 1.28e-4], [7.350, 6.6e-5, 1.35e-4], [7.400, 6.9e-5, 1.25e-4], [7.450, 6.6e-5, 1.4e-4],
  [7.500, 6.8e-5, 1.28e-4], [7.550, 6.5e-5, 1.35e-4], [7.600, 6.8e-5, 1.25e-4], [7.650, 6.6e-5, 1.38e-4],
  [7.700, 6.9e-5, 1.3e-4], [7.750, 6.6e-5, 1.42e-4], [7.800, 6.8e-5, 1.3e-4], [7.840, 6.6e-5, 1.35e-4],
  [7.870, 1.0e-5, 1.25e-4], [7.890, 1.1e-5, 1.3e-4], [7.920, 6.6e-5, 1.45e-4], [7.950, 6.8e-5, 1.3e-4],
  [8.000, 6.5e-5, 1.45e-4], [8.050, 6.8e-5, 1.5e-4], [8.100, 6.6e-5, 1.3e-4], [8.150, 6.9e-5, 1.45e-4],
  [8.200, 6.6e-5, 1.3e-4], [8.250, 6.8e-5, 1.4e-4], [8.300, 6.5e-5, 1.28e-4], [8.350, 6.8e-5, 1.45e-4],
  [8.400, 6.6e-5, 1.3e-4], [8.450, 6.9e-5, 1.4e-4], [8.500, 6.6e-5, 1.28e-4], [8.550, 6.8e-5, 1.38e-4],
  [8.600, 6.6e-5, 1.3e-4], [8.630, 1.1e-5, 1.3e-4], [8.650, 1.2e-5, 1.25e-4], [8.680, 6.6e-5, 1.35e-4],
  [8.720, 6.8e-5, 1.25e-4], [8.760, 6.5e-5, 1.4e-4], [8.800, 6.8e-5, 1.3e-4], [8.850, 6.6e-5, 1.45e-4],
  [8.900, 6.8e-5, 1.3e-4], [8.950, 6.6e-5, 1.4e-4], [9.000, 6.8e-5, 1.35e-4], [9.050, 6.6e-5, 1.72e-4],
  [9.100, 6.8e-5, 1.4e-4], [9.150, 6.6e-5, 1.5e-4], [9.200, 3.3e-5, 1.3e-4], [9.250, 6.6e-5, 1.4e-4],
  [9.300, 6.8e-5, 1.35e-4], [9.340, 8.0e-6, 1.3e-4], [9.360, 8.5e-6, 1.45e-4], [9.400, 6.2e-5, 1.6e-4],
  [9.430, 6.0e-5, 1.75e-4], [9.460, 6.3e-5, 1.5e-4], [9.500, 5.8e-5, 1.65e-4], [9.530, 6.0e-5, 1.4e-4],
  [9.570, 5.6e-5, 1.55e-4], [9.600, 5.8e-5, 1.3e-4], [9.630, 9.0e-6, 1.2e-4], [9.660, 9.5e-6, 1.4e-4],
  [9.700, 5.5e-5, 1.35e-4], [9.740, 5.8e-5, 1.2e-4], [9.780, 5.4e-5, 1.15e-4], [9.820, 5.7e-5, 1.25e-4],
  [9.860, 5.3e-5, 1.2e-4], [9.890, 5.6e-5, 2.17e-4], [9.910, 5.5e-5, 1.3e-4], [9.940, 5.0e-7, 1.2e-4],
  [9.960, 5.5e-7, 1.1e-4], [9.980, 5.3e-5, 1.55e-4], [10.02, 5.0e-5, 9.0e-5], [10.06, 5.3e-5, 8.5e-5],
  [10.10, 4.9e-5, 9.2e-5], [10.15, 5.2e-5, 8.2e-5], [10.20, 4.8e-5, 8.8e-5], [10.25, 5.1e-5, 8.0e-5],
  [10.27, 4.9e-5, 1.25e-4], [10.30, 5.0e-5, 8.2e-5], [10.35, 4.7e-5, 8.8e-5], [10.40, 5.0e-5, 7.9e-5],
  [10.45, 4.6e-5, 8.4e-5], [10.50, 4.8e-5, 7.8e-5], [10.55, 4.5e-5, 8.2e-5], [10.60, 4.7e-5, 7.5e-5],
  [10.65, 4.4e-5, 8.0e-5], [10.70, 4.6e-5, 7.2e-5], [10.75, 4.3e-5, 7.6e-5], [10.80, 4.4e-5, 6.8e-5],
  [10.85, 4.1e-5, 7.2e-5], [10.90, 4.2e-5, 6.6e-5], [10.95, 3.9e-5, 6.9e-5], [11.00, 4.0e-5, 6.3e-5],
  [11.05, 3.7e-5, 6.7e-5], [11.10, 3.9e-5, 6.1e-5], [11.15, 3.6e-5, 6.4e-5], [11.20, 3.8e-5, 5.9e-5],
  [11.25, 3.5e-5, 6.2e-5], [11.30, 3.7e-5, 5.7e-5], [11.35, 3.4e-5, 6.0e-5], [11.40, 3.5e-5, 5.4e-5],
  [11.45, 3.3e-5, 5.7e-5], [11.50, 3.4e-5, 5.2e-5], [11.55, 3.2e-5, 5.5e-5], [11.60, 3.3e-5, 5.0e-5],
  [11.65, 3.1e-5, 5.3e-5], [11.70, 3.2e-5, 4.8e-5], [11.75, 2.9e-5, 5.0e-5], [11.80, 3.1e-5, 4.6e-5],
  [11.85, 2.8e-5, 4.8e-5], [11.90, 3.0e-5, 4.4e-5], [11.95, 2.8e-5, 4.6e-5], [12.00, 2.9e-5, 4.2e-5],
  [12.05, 2.7e-5, 4.4e-5], [12.10, 2.8e-5, 4.0e-5], [12.15, 2.6e-5, 4.2e-5], [12.20, 2.7e-5, 3.8e-5],
  [12.25, 2.5e-5, 4.0e-5], [12.30, 2.6e-5, 3.7e-5], [12.35, 2.4e-5, 3.9e-5], [12.40, 2.5e-5, 3.6e-5],
  [12.45, 2.3e-5, 3.8e-5], [12.50, 2.5e-5, 3.5e-5], [12.53, 2.4e-5, 3.7e-5], [12.545, 4.3e-6, 3.4e-5],
  [12.56, 4.3e-6, 1.2e-5], [12.58, 4.0e-6, 9.0e-6], [12.60, 4.5e-6, 1.1e-5], [12.62, 1.4e-5, 2.1e-5],
  [12.65, 1.4e-5, 2.15e-5], [12.68, 1.5e-5, 2.1e-5], [12.71, 1.45e-5, 2.05e-5], [12.74, 1.4e-5, 2.1e-5],
  [12.77, 1.4e-5, 2.0e-5], [12.80, 1.5e-5, 2.0e-5], [12.82, 3.5e-6, 1.9e-5], [12.84, 3.1e-6, 8.0e-6],
  [12.87, 3.0e-6, 7.2e-6], [12.90, 2.9e-6, 7.6e-6], [12.93, 2.7e-6, 7.0e-6], [12.96, 2.8e-6, 7.3e-6],
  [12.99, 2.3e-6, 6.8e-6], [13.02, 2.2e-6, 7.0e-6], [13.05, 2.3e-6, 6.5e-6], [13.08, 2.2e-6, 6.8e-6],
  [13.11, 2.3e-6, 6.3e-6], [13.14, 2.2e-6, 6.5e-6], [13.165, 2.3e-6, 6.2e-6], [13.18, 1.1e-6, 6.0e-6],
  [13.195, 1.05e-6, 2.0e-6], [13.21, 1.1e-6, 6.2e-6], [13.23, 2.0e-6, 6.0e-6], [13.25, 2.2e-6, 6.1e-6],
  [13.27, 2.0e-6, 5.8e-6], [13.285, 1.1e-6, 5.5e-6]
];

const seriesData = [rfIn10B, cpc10C, rfOut10D];

// ---- layout ----
const svg = d3.select("#chart");
const plot = { left: 106, right: 1331, top: 31.7, bottom: 453.5 };
const x = d3.scaleLinear().domain([0, 14]).range([plot.left, plot.right]);
const y = d3.scaleLog().domain([4.9e-8, 1e-3]).range([plot.bottom, plot.top]);

// minor log positions (2..9 x decade) inside the y range
const yMinorValues = [];
for (let e = -8; e <= -4; e++) {
  for (let k = 2; k <= 9; k++) {
    const v = +(k + "e" + e);
    if (v >= y.domain()[0] && v <= y.domain()[1]) yMinorValues.push(v);
  }
}
const crisp = v => Math.round(v) + 0.5;

// ---- grid (dotted) ----
const grid = svg.append("g").attr("stroke-width", 1).attr("fill", "none");
grid.selectAll("line.ymin").data(yMinorValues).join("line")
  .attr("x1", plot.left).attr("x2", plot.right)
  .attr("y1", d => crisp(y(d))).attr("y2", d => crisp(y(d)))
  .attr("stroke", "#6a6a6a").attr("stroke-dasharray", "1,1");
grid.selectAll("line.ymaj").data(yDecadeValues).join("line")
  .attr("x1", plot.left).attr("x2", plot.right)
  .attr("y1", d => crisp(y(d))).attr("y2", d => crisp(y(d)))
  .attr("stroke", "#1a1a1a").attr("stroke-dasharray", "1,1");
grid.selectAll("line.xg").data(xTickValues.slice(1, -1)).join("line")
  .attr("x1", d => crisp(x(d))).attr("x2", d => crisp(x(d)))
  .attr("y1", plot.top).attr("y2", plot.bottom)
  .attr("stroke", "#333").attr("stroke-dasharray", "1,1");

// ---- data ----
svg.append("clipPath").attr("id", "plotClip").append("rect")
  .attr("x", plot.left).attr("y", plot.top)
  .attr("width", plot.right - plot.left).attr("height", plot.bottom - plot.top);

// each time bin is drawn as a vertical stroke from its min to its max, joined bin to bin
function binPath(rows) {
  const pts = [];
  rows.forEach((r, i) => {
    if (i % 2 === 0) { pts.push([r[0], r[1]], [r[0], r[2]]); }
    else { pts.push([r[0], r[2]], [r[0], r[1]]); }
  });
  return pts;
}
const traceLine = d3.line().x(p => x(p[0])).y(p => y(p[1]));
const traceBand = d3.area().x(r => x(r[0])).y0(r => y(r[1])).y1(r => y(r[2]));

const dataLayer = svg.append("g").attr("clip-path", "url(#plotClip)");
seriesData.forEach((rows, i) => {
  const g = dataLayer.append("g");
  g.append("path").attr("d", traceBand(rows)).attr("fill", seriesColors[i]);
  g.append("path").attr("d", traceLine(binPath(rows)))
    .attr("fill", "none").attr("stroke", seriesColors[i])
    .attr("stroke-width", 3).attr("stroke-linejoin", "round");
});

// ---- axes box and ticks ----
const axes = svg.append("g").attr("stroke", "#000").attr("fill", "none");
axes.append("rect")
  .attr("x", plot.left).attr("y", plot.top)
  .attr("width", plot.right - plot.left).attr("height", plot.bottom - plot.top)
  .attr("stroke-width", 1.6);
const majorLen = 12, minorLen = 6;
yDecadeValues.forEach(v => {
  const py = crisp(y(v));
  axes.append("line").attr("x1", plot.left).attr("x2", plot.left + majorLen).attr("y1", py).attr("y2", py);
  axes.append("line").attr("x1", plot.right - majorLen).attr("x2", plot.right).attr("y1", py).attr("y2", py);
});
yMinorValues.forEach(v => {
  const py = crisp(y(v));
  axes.append("line").attr("x1", plot.left).attr("x2", plot.left + minorLen).attr("y1", py).attr("y2", py);
  axes.append("line").attr("x1", plot.right - minorLen).attr("x2", plot.right).attr("y1", py).attr("y2", py);
});
xTickValues.forEach(v => {
  const px = crisp(x(v));
  axes.append("line").attr("x1", px).attr("x2", px).attr("y1", plot.bottom).attr("y2", plot.bottom - majorLen);
  axes.append("line").attr("x1", px).attr("x2", px).attr("y1", plot.top).attr("y2", plot.top + majorLen);
});

// ---- tick labels ----
const labels = svg.append("g");
xTickValues.forEach(v => {
  labels.append("text").attr("x", x(v)).attr("y", 485)
    .attr("text-anchor", "middle").attr("font-size", 25).text(v);
});
yDecadeValues.forEach((v, i) => {
  const t = labels.append("text").attr("x", 98).attr("y", y(v) + 10)
    .attr("text-anchor", "end").attr("font-size", 25);
  t.append("tspan").text("10");
  t.append("tspan").attr("dy", -19).attr("font-size", 16).text(yDecadeExponents[i]);
});

// ---- axis titles ----
labels.append("text").attr("x", (plot.left + plot.right) / 2).attr("y", 514)
  .attr("text-anchor", "middle").attr("font-size", 25).text(xAxisTitle);
labels.append("text")
  .attr("transform", `translate(34,${(plot.top + plot.bottom) / 2}) rotate(-90)`)
  .attr("text-anchor", "middle").attr("font-size", 26).text(yAxisTitle);

// ---- legend ----
const legend = svg.append("g");
legend.append("rect").attr("x", 687).attr("y", 297).attr("width", 241).attr("height", 114)
  .attr("fill", "#fff").attr("stroke", "#000").attr("stroke-width", 1.2);
seriesNames.forEach((name, i) => {
  const cy = 318.5 + i * 35.3;
  legend.append("line").attr("x1", 700).attr("x2", 767).attr("y1", cy).attr("y2", cy)
    .attr("stroke", seriesColors[i]).attr("stroke-width", 3.5);
  legend.append("text").attr("x", 777).attr("y", cy + 10)
    .attr("font-size", 25).text(name);
});
</script>
</body>
</html>
